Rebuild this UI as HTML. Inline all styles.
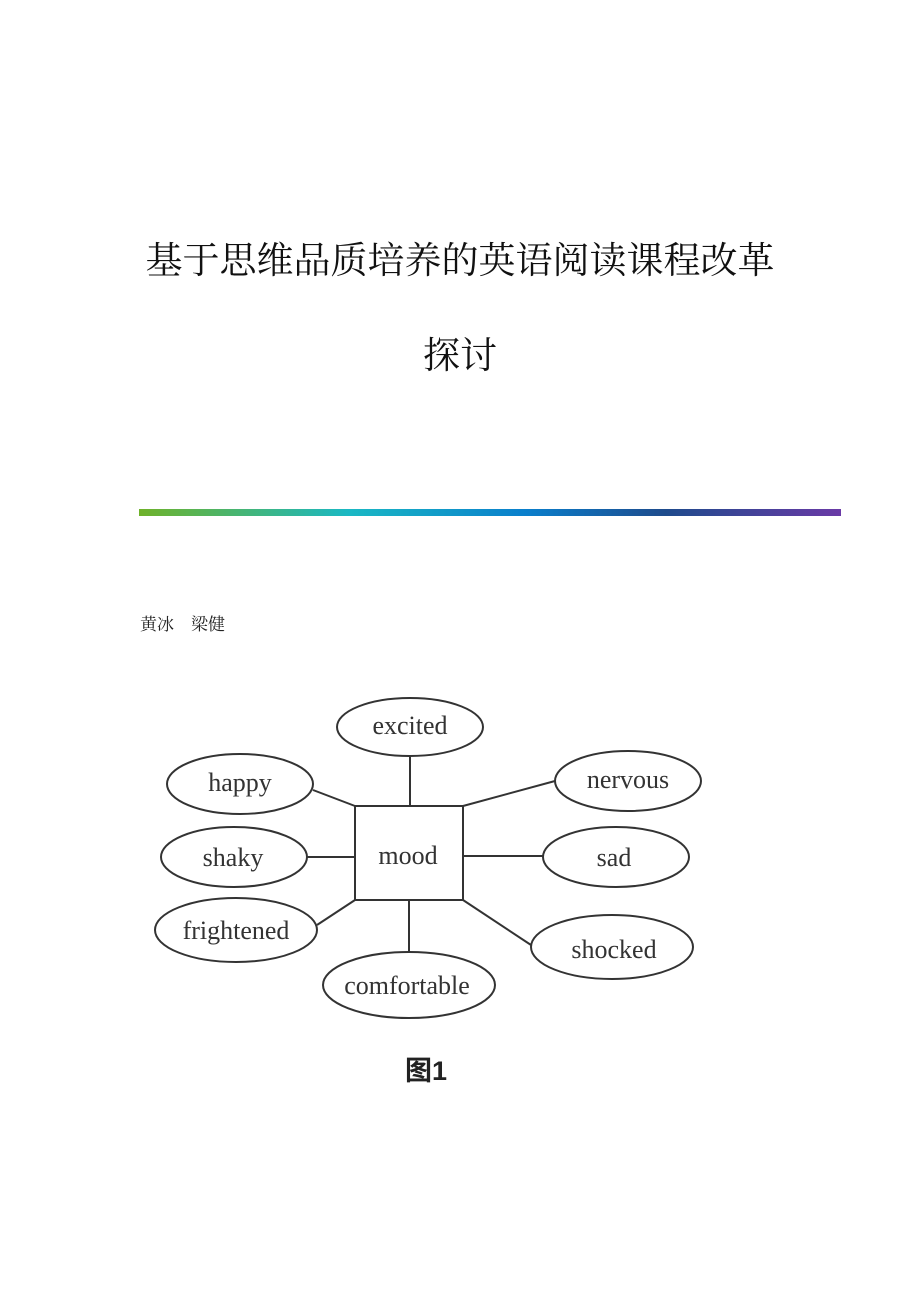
<!DOCTYPE html>
<html><head><meta charset="utf-8"><style>
body{margin:0;width:920px;height:1302px;background:#fff;position:relative;overflow:hidden}
.t{position:absolute;left:0;width:920px;text-align:center;font-family:"Liberation Serif","Noto Serif CJK SC",serif;font-size:37px;color:#111;letter-spacing:0;white-space:nowrap}
.bar{position:absolute;left:139px;top:509px;width:702px;height:7px;background:linear-gradient(90deg,#6fb22a 0%,#1ab8c4 30%,#0a7fcc 55%,#1e4b8c 75%,#6a3aa6 100%)}
.a{position:absolute;left:140px;top:610px;font-family:"Liberation Serif","Noto Serif CJK SC",serif;font-size:17px;color:#222;letter-spacing:0}
</style></head><body>
<div class="t" style="top:230px">基于思维品质培养的英语阅读课程改革</div>
<div class="t" style="top:325px">探讨</div>
<div class="bar"></div>
<div class="a">黄冰　梁健</div>
<svg width="920" height="1302" style="position:absolute;left:0;top:0" font-family="Liberation Serif, serif" font-size="26" fill="none" stroke="#333" stroke-width="2">
<rect x="355" y="806" width="108" height="94"/>
<line x1="410" y1="756" x2="410" y2="806"/><line x1="313" y1="790" x2="355" y2="806"/>
<line x1="463" y1="806" x2="555" y2="781"/><line x1="307" y1="857" x2="355" y2="857"/>
<line x1="463" y1="856" x2="543" y2="856"/><line x1="317" y1="925" x2="355" y2="900"/>
<line x1="463" y1="900" x2="531" y2="945"/><line x1="409" y1="900" x2="409" y2="952"/>
<ellipse cx="410" cy="727" rx="73" ry="29"/><ellipse cx="240" cy="784" rx="73" ry="30"/>
<ellipse cx="628" cy="781" rx="73" ry="30"/><ellipse cx="234" cy="857" rx="73" ry="30"/>
<ellipse cx="616" cy="857" rx="73" ry="30"/><ellipse cx="236" cy="930" rx="81" ry="32"/>
<ellipse cx="612" cy="947" rx="81" ry="32"/><ellipse cx="409" cy="985" rx="86" ry="33"/>
<g fill="#333" stroke="none" text-anchor="middle">
<text x="410" y="734">excited</text><text x="240" y="791">happy</text>
<text x="628" y="788">nervous</text><text x="233" y="866">shaky</text>
<text x="614" y="866">sad</text><text x="236" y="939">frightened</text>
<text x="614" y="958">shocked</text><text x="407" y="994">comfortable</text>
<text x="408" y="864">mood</text>
<text x="426" y="1080" font-family="Liberation Sans, Noto Sans CJK SC, sans-serif" font-weight="bold" font-size="27" fill="#222">图1</text>
</g></svg>
</body></html>
